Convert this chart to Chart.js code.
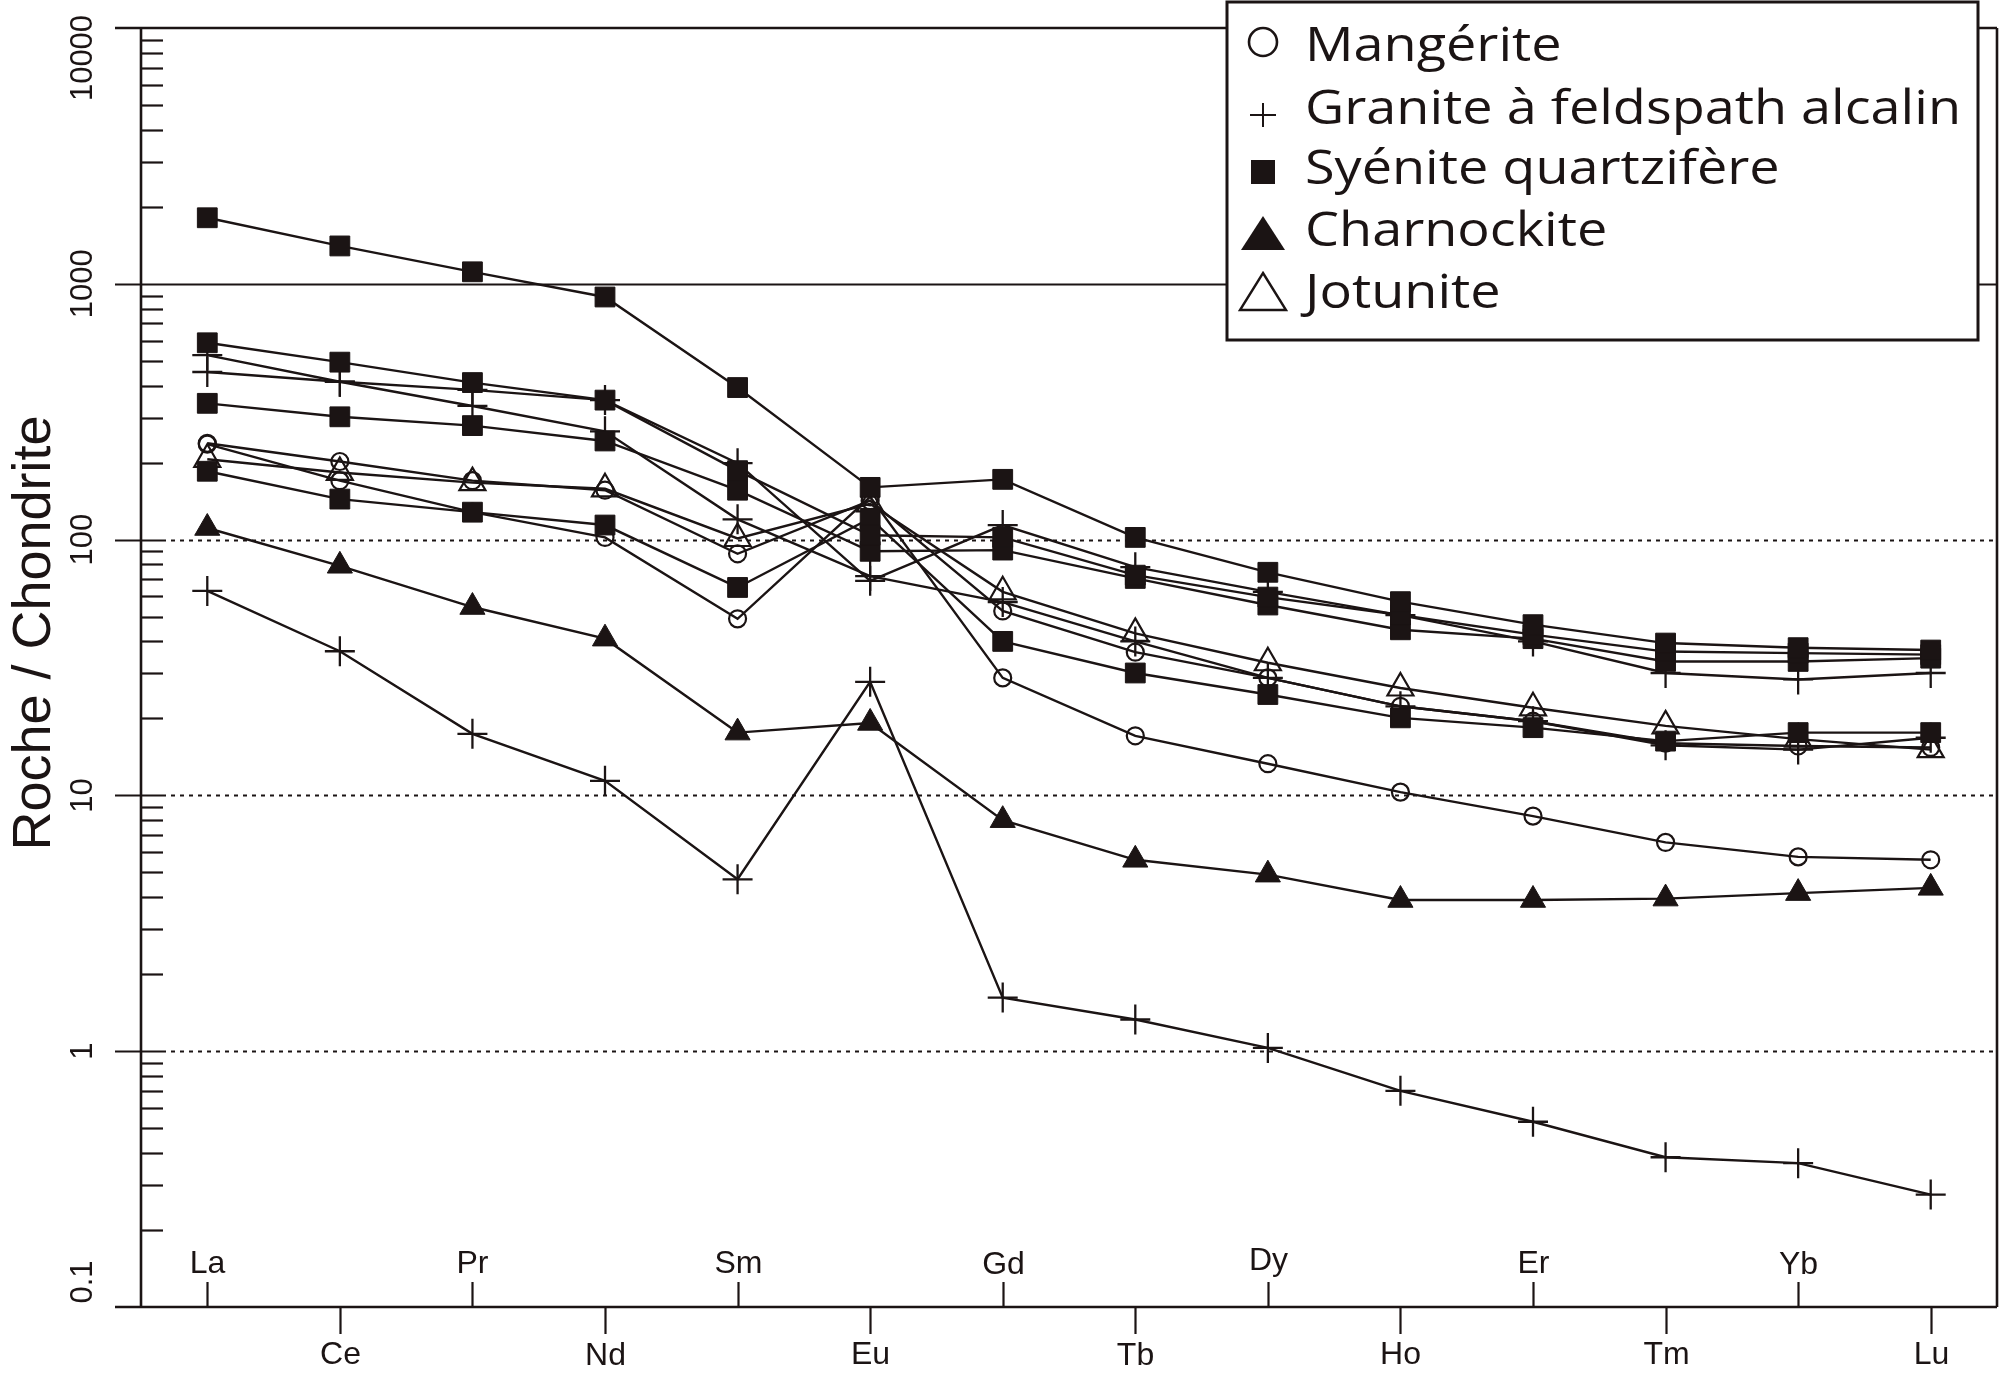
<!DOCTYPE html>
<html>
<head>
<meta charset="utf-8">
<script src="https://cdn.jsdelivr.net/npm/chart.js@4.4.1/dist/chart.umd.min.js"></script>
<style>
  html, body { margin: 0; padding: 0; background: #fff; }
  #wrap { width: 2000px; height: 1376px; }
</style>
</head>
<body>
<div id="wrap"><canvas id="spider" width="2000" height="1376"></canvas></div>
<script>
// Terres rares normalisées aux chondrites
const elements = ["La", "Ce", "Pr", "Nd", "Sm", "Eu", "Gd", "Tb", "Dy", "Ho", "Er", "Tm", "Yb", "Lu"];
const yTicks = [0.1, 1, 10, 100, 1000, 10000];
const yTickLabels = ["0.1", "1", "10", "100", "1000", "10000"];
const yTitle = "Roche / Chondrite";
const rockTypes = ["Mangérite", "Granite à feldspath alcalin", "Syénite quartzifère", "Charnockite", "Jotunite"];

// Syénite quartzifère
const syeniteA = [1812, 1406, 1114, 888, 393, 160, 172, 102, 74.5, 57.2, 46.5, 39.4, 37.8, 37];
const syeniteB = [588, 494, 411, 351, 186, 104, 102, 72.6, 59.6, 50.7, 42.5, 36.5, 36, 35.5];
const syeniteC = [341, 302, 279, 243, 156, 90, 91, 70.5, 55.5, 44.4, 41, 33.4, 33.4, 34.4];
const syeniteD = [185, 144, 128, 114, 65, 121, 40, 30.1, 24.8, 20.1, 18.4, 16.3, 17.6, 17.6];
// Granite à feldspath alcalin
const graniteA = [526, 414, 333, 265, 120, 72, 57, 40, 28.8, 22.3, 19.5, 15.7, 15.1, 16.8];
const graniteB = [452, 414, 385, 351, 199, 69, 114, 78, 62.5, 50.7, 40, 30.1, 28.4, 30.1];
const graniteC = [63, 36.6, 17.4, 11.4, 4.7, 27.8, 1.62, 1.33, 1.03, 0.70, 0.53, 0.385, 0.365, 0.275];
// Mangérite
const mangeriteA = [238, 202, 170, 156, 88, 142, 52.6, 36.3, 28.8, 22.3, 19.5, 16, 15.6, 15.4];
const mangeriteB = [236, 170, 128, 102, 49, 147, 28.8, 17.1, 13.3, 10.3, 8.3, 6.55, 5.75, 5.6];
// Charnockite, Jotunite
const charnockite = [111, 79, 54.5, 41, 17.6, 19.2, 8.0, 5.6, 4.9, 3.9, 3.9, 3.95, 4.15, 4.35];
const jotunite = [206, 183, 167, 158, 101, 138, 62.5, 43, 33, 26.3, 22, 18.7, 16.6, 15.1];

const ink = "#1b1414";
const axisFont = '"Liberation Sans", Arial, sans-serif';
const legendFont = '"Open Sans", "Noto Sans", sans-serif';

// index in rockTypes -> marker
const markers = [
    { pointStyle: "circle", radius: 8.5, fill: "rgba(0,0,0,0)", bw: 2.2 },
    { pointStyle: "cross", radius: 15, fill: ink, bw: 2.3 },
    { pointStyle: "rect", radius: 14, fill: ink, bw: 1 },
    { pointStyle: "triangle", radius: 14.5, fill: ink, bw: 1 },
    { pointStyle: "triangle", radius: 15, fill: "rgba(0,0,0,0)", bw: 2.2 }
];

const samples = [
    [2, syeniteA], [2, syeniteB], [2, syeniteC], [2, syeniteD],
    [1, graniteA], [1, graniteB], [1, graniteC],
    [0, mangeriteA], [0, mangeriteB],
    [3, charnockite], [4, jotunite]
];

const datasets = samples.map(([type, values]) => {
    const m = markers[type];
    return {
        label: rockTypes[type],
        data: values,
        borderColor: ink,
        borderWidth: 2.4,
        tension: 0,
        fill: false,
        pointStyle: m.pointStyle,
        pointRadius: m.radius,
        pointHoverRadius: m.radius,
        pointBackgroundColor: m.fill,
        pointBorderColor: ink,
        pointBorderWidth: m.bw
    };
});

function line(ctx, x1, y1, x2, y2) {
    ctx.beginPath();
    ctx.moveTo(x1, y1);
    ctx.lineTo(x2, y2);
    ctx.stroke();
}

// axes, grille et légende dessinés à la main autour de la zone du graphe
const framePlugin = {
    id: "frame",
    beforeDatasetsDraw(chart) {
        const { ctx, chartArea: a, scales: { y } } = chart;
        ctx.save();
        ctx.strokeStyle = ink;
        ctx.lineWidth = 2.2;
        yTicks.forEach(v => {
            const py = Math.round(y.getPixelForValue(v)) + 0.5;
            if (v === 1000) {
                line(ctx, a.left - 26, py, a.right, py);
            } else if (v !== 10000 && v !== 0.1) {
                line(ctx, a.left - 26, py, a.left + 21, py);
                ctx.setLineDash([4, 5]);
                line(ctx, a.left + 21, py, a.right, py);
                ctx.setLineDash([]);
            }
        });
        ctx.restore();
    },
    afterDatasetsDraw(chart) {
        const { ctx, chartArea: a, scales: { x, y } } = chart;
        ctx.save();
        ctx.strokeStyle = ink;
        ctx.fillStyle = ink;
        ctx.lineWidth = 2.6;

        // cadre
        line(ctx, a.left - 26, a.top, a.right, a.top);
        line(ctx, a.left - 26, a.bottom, a.right, a.bottom);
        line(ctx, a.left, a.top, a.left, a.bottom);
        line(ctx, a.right, a.top, a.right, a.bottom);

        // graduations mineures
        ctx.lineWidth = 2.2;
        for (let d = -1; d < 4; d++) {
            for (let m = 2; m < 10; m++) {
                const py = Math.round(y.getPixelForValue(m * Math.pow(10, d))) + 0.5;
                line(ctx, a.left, py, a.left + 22, py);
            }
        }

        // étiquettes Y (verticales)
        ctx.font = "31px " + axisFont;
        ctx.textAlign = "center";
        ctx.textBaseline = "alphabetic";
        yTicks.forEach((v, i) => {
            let py = y.getPixelForValue(v);
            py = Math.min(Math.max(py, a.top + 30), a.bottom - 25);
            ctx.save();
            ctx.translate(92, py);
            ctx.rotate(-Math.PI / 2);
            ctx.fillText(yTickLabels[i], 0, 0);
            ctx.restore();
        });

        // titre Y
        ctx.font = "54px " + axisFont;
        ctx.save();
        ctx.translate(50, 633);
        ctx.rotate(-Math.PI / 2);
        ctx.fillText(yTitle, 0, 0);
        ctx.restore();

        // éléments : alternés au-dessus / au-dessous de l'axe
        ctx.font = "32px " + axisFont;
        elements.forEach((el, i) => {
            const px = Math.round(x.getPixelForValue(i)) + 0.5;
            const up = i % 2 === 0;
            if (up) line(ctx, px, a.bottom, px, a.bottom - 25);
            else line(ctx, px, a.bottom, px, a.bottom + 27);
            const yc = up ? a.bottom - 45 : a.bottom + 46;
            const mt = ctx.measureText(el);
            const base = yc + (mt.actualBoundingBoxAscent - mt.actualBoundingBoxDescent) / 2;
            ctx.fillText(el, px, base);
        });

        // légende
        const box = { x: 1227, y: 2, w: 751, h: 338 };
        ctx.fillStyle = "#fff";
        ctx.fillRect(box.x, box.y, box.w, box.h);
        ctx.lineWidth = 3;
        ctx.strokeRect(box.x, box.y, box.w, box.h);
        ctx.fillStyle = ink;

        const symX = 1263, textX = 1305, textW = 656;
        const rows = [61, 124, 184, 246, 308];
        ctx.font = "500 48px " + legendFont;
        ctx.textAlign = "left";
        const widest = Math.max(...rockTypes.map(t => ctx.measureText(t).width));
        const sx = textW / widest;
        rockTypes.forEach((t, i) => {
            ctx.save();
            ctx.translate(textX, rows[i]);
            ctx.scale(sx, 1);
            ctx.fillText(t, 0, 0);
            ctx.restore();
        });

        ctx.lineWidth = 2.6;
        // cercle
        ctx.beginPath();
        ctx.arc(symX, rows[0] - 19, 14, 0, Math.PI * 2);
        ctx.stroke();
        // plus
        ctx.lineWidth = 2;
        line(ctx, symX - 13, rows[1] - 9, symX + 13, rows[1] - 9);
        line(ctx, symX, rows[1] - 21, symX, rows[1] + 3);
        // carré
        ctx.fillRect(symX - 12, rows[2] - 24, 24, 24);
        // triangle plein
        ctx.beginPath();
        ctx.moveTo(symX, rows[3] - 30);
        ctx.lineTo(symX + 22, rows[3] + 4);
        ctx.lineTo(symX - 22, rows[3] + 4);
        ctx.closePath();
        ctx.fill();
        // triangle vide
        ctx.lineWidth = 2.4;
        ctx.beginPath();
        ctx.moveTo(symX, rows[4] - 35);
        ctx.lineTo(symX + 23, rows[4] + 2);
        ctx.lineTo(symX - 23, rows[4] + 2);
        ctx.closePath();
        ctx.stroke();

        ctx.restore();
    }
};

const chart = new Chart(document.getElementById("spider").getContext("2d"), {
    type: "line",
    data: { labels: elements, datasets: datasets },
    options: {
        responsive: false,
        animation: false,
        devicePixelRatio: 1,
        layout: { autoPadding: false, padding: { left: 141, top: 28, right: 3, bottom: 69 } },
        scales: {
            x: { type: "category", offset: true, display: false },
            y: { type: "logarithmic", min: 0.1, max: 10000, display: false }
        },
        plugins: {
            legend: { display: false },
            tooltip: { enabled: false }
        }
    },
    plugins: [framePlugin]
});
</script>
</body>
</html>
